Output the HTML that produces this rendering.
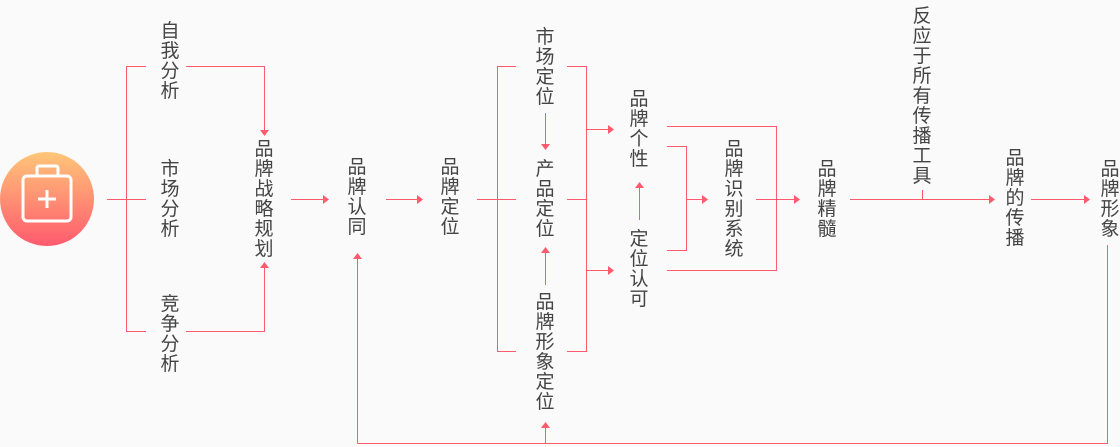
<!DOCTYPE html>
<html><head><meta charset="utf-8"><style>
html,body{margin:0;padding:0;background:#fafafa;}
body{width:1120px;height:447px;position:relative;overflow:hidden;font-family:"Liberation Sans","Noto Sans CJK SC",sans-serif;}
.v{position:absolute;width:24px;font-size:19px;line-height:20px;color:#444;text-align:center;}
svg{position:absolute;left:0;top:0;}
</style></head><body>
<svg width="1120" height="447" viewBox="0 0 1120 447">
<defs>
<linearGradient id="g" x1="0" y1="0" x2="0" y2="1"><stop offset="0" stop-color="#ffc679"/><stop offset="1" stop-color="#ff5a6e"/></linearGradient>
</defs>
<circle cx="47" cy="199" r="47" fill="url(#g)"/>
<rect x="23" y="176" width="48" height="45" rx="4" fill="none" stroke="#fff" stroke-width="3"/>
<rect x="37" y="178" width="20" height="-1" fill="none"/>
<path d="M37 176 V168 a2 2 0 0 1 2-2 H56 a2 2 0 0 1 2 2 V176" fill="none" stroke="#fff" stroke-width="3"/>
<path d="M47 190 V208 M38 199 H56" stroke="#fff" stroke-width="3"/>
<g stroke="#ff5a6e" stroke-width="1" fill="none">
<path d="M107 199.5H146 M146 66.5H126.5V331.5H146"/>
<path d="M186 66.5H264.5V130 M186 331.5H264.5V268"/>
<path d="M291 199.5H323 M386 199.5H417"/>
<path d="M357.5 443.5V258 M357.5 443.5H1107.5V245 M545.5 443.5V428"/>
<path d="M477 199.5H516 M516 66.5H497.5V351.5H516"/>
<path d="M567 66.5H586.5V351.5H567 M567 199.5H586.5 M586.5 129.5H608 M586.5 270.5H608"/>
<path d="M545.5 113V144 M545.5 285V253 M639.5 220V188"/>
<path d="M667 126.5H776.5V270.5H667 M667 146.5H686.5V250.5H667 M686.5 199.5H702 M756 199.5H794"/>
<path d="M850 199.5H989 M922.5 190V199 M1031 199.5H1084"/>
</g>
<g fill="#ff5a6e">
<path d="M260 130H269L264.5 136Z"/>
<path d="M260 268H269L264.5 262Z"/>
<path d="M323 195L329 199.5L323 204Z"/>
<path d="M417 195L423 199.5L417 204Z"/>
<path d="M353 259H362L357.5 253Z"/>
<path d="M541 428H550L545.5 422Z"/>
<path d="M541 144H550L545.5 150Z"/>
<path d="M541 253H550L545.5 247Z"/>
<path d="M608 125L614 129.5L608 134Z"/>
<path d="M608 266L614 270.5L608 275Z"/>
<path d="M635 188H644L639.5 182Z"/>
<path d="M702 195L708 199.5L702 204Z"/>
<path d="M794 195L800 199.5L794 204Z"/>
<path d="M989 195L995 199.5L989 204Z"/>
<path d="M1084 195L1090 199.5L1084 204Z"/>
</g>
</svg>
<div class="v" style="left:158px;top:22px">自<br>我<br>分<br>析</div>
<div class="v" style="left:158px;top:160px">市<br>场<br>分<br>析</div>
<div class="v" style="left:158px;top:295px">竞<br>争<br>分<br>析</div>
<div class="v" style="left:252px;top:140px">品<br>牌<br>战<br>略<br>规<br>划</div>
<div class="v" style="left:345px;top:158px">品<br>牌<br>认<br>同</div>
<div class="v" style="left:438px;top:158px">品<br>牌<br>定<br>位</div>
<div class="v" style="left:533px;top:28px">市<br>场<br>定<br>位</div>
<div class="v" style="left:533px;top:160px">产<br>品<br>定<br>位</div>
<div class="v" style="left:533px;top:293px">品<br>牌<br>形<br>象<br>定<br>位</div>
<div class="v" style="left:627px;top:90px">品<br>牌<br>个<br>性</div>
<div class="v" style="left:627px;top:230px">定<br>位<br>认<br>可</div>
<div class="v" style="left:722px;top:140px">品<br>牌<br>识<br>别<br>系<br>统</div>
<div class="v" style="left:815px;top:160px">品<br>牌<br>精<br>髓</div>
<div class="v" style="left:910px;top:7px">反<br>应<br>于<br>所<br>有<br>传<br>播<br>工<br>具</div>
<div class="v" style="left:1003px;top:149px">品<br>牌<br>的<br>传<br>播</div>
<div class="v" style="left:1098px;top:160px">品<br>牌<br>形<br>象</div>
</body></html>
